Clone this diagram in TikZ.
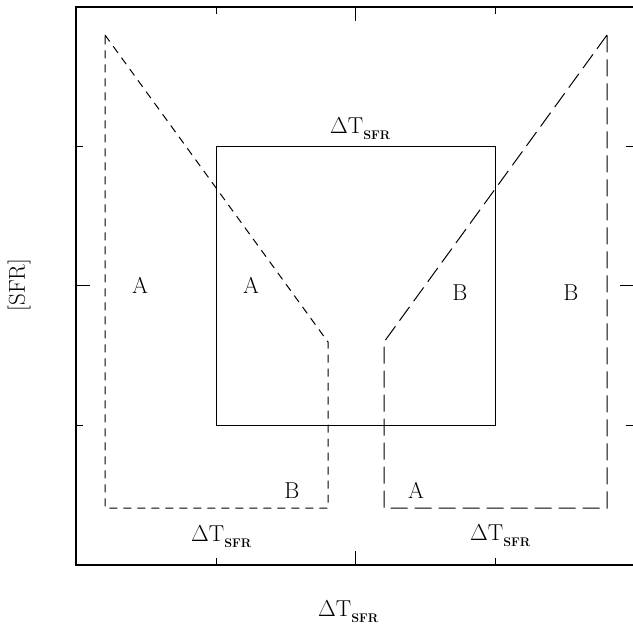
\RequirePackage{fix-cm}
\documentclass[tikz,border=0pt]{standalone}
\begin{document}
\begin{tikzpicture}[x=1pt,y=-1pt,
  frame/.style={line width=1.6pt},
  tick/.style={line width=0.9pt},
  thin/.style={line width=0.8pt},
  shortdash/.style={line width=1pt, dash pattern=on 8pt off 6pt},
  longdash/.style={line width=1pt, dash pattern=on 17pt off 7pt},
  lab/.style={font=\fontsize{23}{26}\selectfont, inner sep=0pt, anchor=base},
  dt/.style={font=\fontsize{23}{26}\selectfont, inner sep=0pt, anchor=base west}]
\useasboundingbox (0,0) rectangle (633,633);
% frame
\draw[frame] (633,7) -- (76,7) -- (76,565) -- (633,565);
% ticks left
\draw[tick] (76,146) -- (83,146) (76,285) -- (90,285) (76,425) -- (83,425);
% ticks right
\draw[tick] (633,146) -- (626,146) (633,285) -- (620,285) (633,425) -- (626,425);
% ticks top
\draw[tick] (216,7) -- (216,14) (355,7) -- (355,21) (495,7) -- (495,14);
% ticks bottom
\draw[tick] (216,565) -- (216,558) (355,565) -- (355,551) (495,565) -- (495,558);
% inner square
\draw[thin] (216,146) rectangle (495,425);
% left polygon
\draw[shortdash] (105,35) -- (328,342) -- (328,508) -- (105,508) -- cycle;
% right polygon
\draw[longdash] (607,35) -- (384,342) -- (384,508) -- (607,508) -- cycle;
% labels
\node[lab] (a1) at (140,293) {A};
\node[lab] (a2) at (251,293) {A};
\node[lab] (b1) at (460,300) {B};
\node[lab] (b2) at (571,300) {B};
\node[lab] (b3) at (292,498) {B};
\node[lab] (a3) at (416,498) {A};
\newcommand{\dtsfr}{$\Delta$T\raisebox{-6pt}{\fontsize{12.5}{14}\selectfont\bfseries SFR}}
\node[dt] (t1) at (330,133) {\dtsfr};
\node[dt] (t2) at (191,541) {\dtsfr};
\node[dt] (t3) at (470,540) {\dtsfr};
\node[dt] (t4) at (318,616) {\dtsfr};
\node[font=\fontsize{23}{26}\selectfont, inner sep=0pt, rotate=90] (sfr) at (19,285) {[SFR]};
\end{tikzpicture}
\end{document}
